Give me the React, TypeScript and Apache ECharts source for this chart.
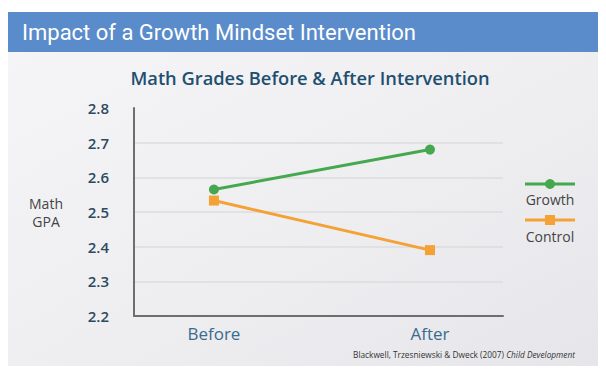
import React, { useEffect, useRef } from "react";
import * as echarts from "echarts";

const categories = ["Before", "After"];
const seriesNames = ["Growth", "Control"];
const growthValues = [2.565, 2.68];
const controlValues = [2.533, 2.39];
const yTicks = { min: 2.2, max: 2.8, interval: 0.1 };
const mainTitle = "Impact of a Growth Mindset Intervention";
const subTitle = "Math Grades Before & After Intervention";
const yName = "Math\nGPA";
const citationAuthors = "Blackwell, Trzesniewski & Dweck (2007) ";
const citationJournal = "Child Development";

const GREEN = "#45a84f";
const ORANGE = "#f4a236";

export default function App() {
  const ref = useRef<HTMLDivElement>(null);
  useEffect(() => {
    if (!ref.current) return;
    const chart = echarts.init(ref.current, undefined, { renderer: "svg" });
    const toPts = (vals: number[]) => vals.map((v, i) => [i, v]);
    chart.setOption({
      animation: false,
      backgroundColor: "#ffffff",
      textStyle: { fontFamily: "Open Sans" },
      grid: { left: 134, right: 103, top: 108, bottom: 58 },
      xAxis: {
        type: "value",
        min: -0.37,
        max: 1.338,
        axisLine: { show: true, onZero: false, lineStyle: { color: "#6e6e70", width: 2 } },
        axisTick: { show: false },
        splitLine: { show: false },
        axisLabel: {
          customValues: [0, 1],
          formatter: (v: number) => categories[Math.round(v)] ?? "",
          color: "#3b6a8e",
          fontSize: 17,
          margin: 9,
          fontFamily: "Open Sans",
        },
      },
      yAxis: {
        type: "value",
        min: yTicks.min,
        max: yTicks.max,
        interval: yTicks.interval,
        name: yName,
        nameLocation: "middle",
        nameRotate: 0,
        nameGap: 88,
        nameTextStyle: { color: "#444", fontSize: 14, align: "center", lineHeight: 18, fontFamily: "Open Sans" },
        axisLine: { show: true, onZero: false, lineStyle: { color: "#6e6e70", width: 2 } },
        axisTick: { show: false },
        splitLine: {
          show: true,
          lineStyle: {
            color: ["#dcdcde", "#dcdcde", "#dcdcde", "#dcdcde", "#dcdcde", "#dcdcde", "rgba(0,0,0,0)"],
            width: 1.5,
          },
        },
        axisLabel: {
          formatter: (v: number) => v.toFixed(1),
          color: "#2c4a60",
          fontSize: 15,
          margin: 25,
          fontWeight: 600,
          fontFamily: "Open Sans",
        },
      },
      series: [
        {
          name: seriesNames[0],
          type: "line",
          data: toPts(growthValues),
          symbol: "circle",
          symbolSize: 10,
          lineStyle: { color: GREEN, width: 3 },
          itemStyle: { color: GREEN },
          z: 3,
        },
        {
          name: seriesNames[1],
          type: "line",
          data: toPts(controlValues),
          symbol: "rect",
          symbolSize: 10,
          lineStyle: { color: ORANGE, width: 3 },
          itemStyle: { color: ORANGE },
          z: 2,
        },
      ],
      graphic: [
        {
          type: "rect",
          z: -10,
          silent: true,
          shape: { x: 8, y: 50, width: 590, height: 316 },
          style: {
            fill: new echarts.graphic.LinearGradient(0, 0, 1, 1, [
              { offset: 0, color: "#f5f5f7" },
              { offset: 0.55, color: "#eeeef1" },
              { offset: 1, color: "#e6e6ea" },
            ]),
          },
        },
        {
          type: "rect",
          z: 10,
          shape: { x: 8, y: 12, width: 590, height: 40 },
          style: { fill: "#5a8bcb" },
        },
        {
          type: "text",
          z: 11,
          x: 22,
          y: 32,
          style: {
            text: mainTitle,
            fill: "#ffffff",
            fontSize: 22,
            fontFamily: "Roboto",
            verticalAlign: "middle",
            textAlign: "left",
          },
        },
        {
          type: "text",
          z: 11,
          x: 310,
          y: 77,
          style: {
            text: subTitle,
            fill: "#1f4f70",
            fontSize: 18.3,
            fontWeight: 600,
            fontFamily: "Open Sans",
            verticalAlign: "middle",
            textAlign: "center",
          },
        },
        // legend: Growth
        {
          type: "line",
          z: 11,
          shape: { x1: 525, y1: 184, x2: 575, y2: 184 },
          style: { stroke: GREEN, lineWidth: 3 },
        },
        { type: "circle", z: 12, shape: { cx: 550, cy: 184, r: 5 }, style: { fill: GREEN } },
        {
          type: "text",
          z: 11,
          x: 550,
          y: 199,
          style: { text: seriesNames[0], fill: "#444", fontSize: 14, fontFamily: "Open Sans", textAlign: "center", verticalAlign: "middle" },
        },
        // legend: Control
        {
          type: "line",
          z: 11,
          shape: { x1: 525, y1: 220, x2: 575, y2: 220 },
          style: { stroke: ORANGE, lineWidth: 3 },
        },
        { type: "rect", z: 12, shape: { x: 545, y: 215, width: 10, height: 10 }, style: { fill: ORANGE } },
        {
          type: "text",
          z: 11,
          x: 550,
          y: 236,
          style: { text: seriesNames[1], fill: "#444", fontSize: 14, fontFamily: "Open Sans", textAlign: "center", verticalAlign: "middle" },
        },
        // citation
        {
          type: "text",
          z: 11,
          x: 575,
          y: 354,
          style: {
            text: "{a|" + citationAuthors + "}{b|" + citationJournal + "}",
            textAlign: "right",
            verticalAlign: "middle",
            rich: {
              a: { fontSize: 8.3, fill: "#333", fontFamily: "Open Sans" },
              b: { fontSize: 8.3, fill: "#333", fontStyle: "italic", fontFamily: "Open Sans" },
            },
          },
        },
      ],
    });
    return () => chart.dispose();
  }, []);
  return (
    <div
      ref={ref}
      style={{ position: "fixed", left: 0, top: 0, width: 606, height: 374 }}
    />
  );
}
